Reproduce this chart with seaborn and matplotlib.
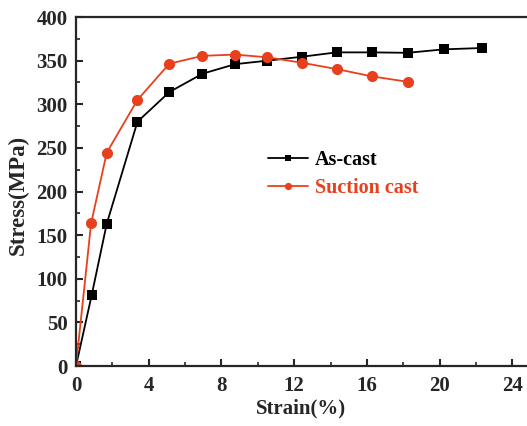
import matplotlib
matplotlib.use("Agg")
import matplotlib.pyplot as plt
import seaborn as sns
import pandas as pd
from matplotlib.ticker import MultipleLocator

sns.set_style("ticks")
plt.rcParams['font.family'] = ['Liberation Serif', 'DejaVu Serif']
plt.rcParams['font.weight'] = 'bold'

as_cast_strain = [0, 0.86, 1.69, 3.38, 5.13, 6.95, 8.75, 10.53, 12.42, 14.33, 16.27, 18.23, 20.25, 22.33]
as_cast_stress = [0, 81, 163, 280, 314, 335, 346, 350, 354.5, 359.5, 359.5, 359, 363, 364.5]
suction_strain = [0, 0.83, 1.69, 3.38, 5.13, 6.95, 8.75, 10.53, 12.42, 14.33, 16.27, 18.23]
suction_stress = [0, 163.5, 244.5, 305, 346.5, 355.5, 357, 353.8, 347.6, 340.4, 332, 325.8]
series_names = ["As-cast", "Suction cast"]
colors = ["#000000", "#e8401c"]
x_ticks = [0, 4, 8, 12, 16, 20, 24]
y_ticks = [0, 50, 100, 150, 200, 250, 300, 350, 400]

df_a = pd.DataFrame({"Strain": as_cast_strain, "Stress": as_cast_stress})
df_s = pd.DataFrame({"Strain": suction_strain, "Stress": suction_stress})

fig = plt.figure(figsize=(5.27, 4.26), dpi=100)
ax = fig.add_axes([0.1442, 0.1408, 0.8558, 0.8192])

sns.lineplot(data=df_a, x="Strain", y="Stress", color=colors[0], marker="s",
             markersize=6.5, linewidth=1.3, markeredgewidth=0, sort=False,
             ax=ax, label=series_names[0])
sns.lineplot(data=df_s, x="Strain", y="Stress", color=colors[1], marker="o",
             markersize=8, linewidth=1.3, markeredgewidth=0, sort=False,
             ax=ax, label=series_names[1])

ax.set_xlim(0, 24.8)
ax.set_ylim(0, 400)
ax.set_xticks(x_ticks)
ax.set_yticks(y_ticks)
ax.xaxis.set_minor_locator(MultipleLocator(2))
ax.yaxis.set_minor_locator(MultipleLocator(25))
ax.tick_params(which='major', direction='in', length=5, width=1.5, labelsize=15)
ax.tick_params(axis='x', which='major', pad=7)
ax.tick_params(axis='y', which='major', pad=6)
ax.tick_params(which='minor', direction='in', length=3, width=1.2)
for lab in ax.get_xticklabels() + ax.get_yticklabels():
    lab.set_fontweight('bold')
for s in ax.spines.values():
    s.set_linewidth(1.6)
ax.spines['right'].set_visible(False)
ax.spines['top'].set_visible(True)
ax.set_xlabel("Strain(%)", fontsize=15, fontweight='bold', labelpad=2)
ax.set_ylabel("Stress(MPa)", fontsize=16.5, fontweight='bold', labelpad=2)
ax.yaxis.set_label_coords(-0.104, 0.49)

leg = ax.legend(loc='upper left', bbox_to_anchor=(0.385, 0.67), frameon=False,
                fontsize=14.5, handlelength=2.0, handletextpad=0.35, labelspacing=0.4,
                markerscale=0.65)
for text, c in zip(leg.get_texts(), colors):
    text.set_color(c)
    text.set_fontweight('bold')

fig.savefig("out.png", dpi=100)
